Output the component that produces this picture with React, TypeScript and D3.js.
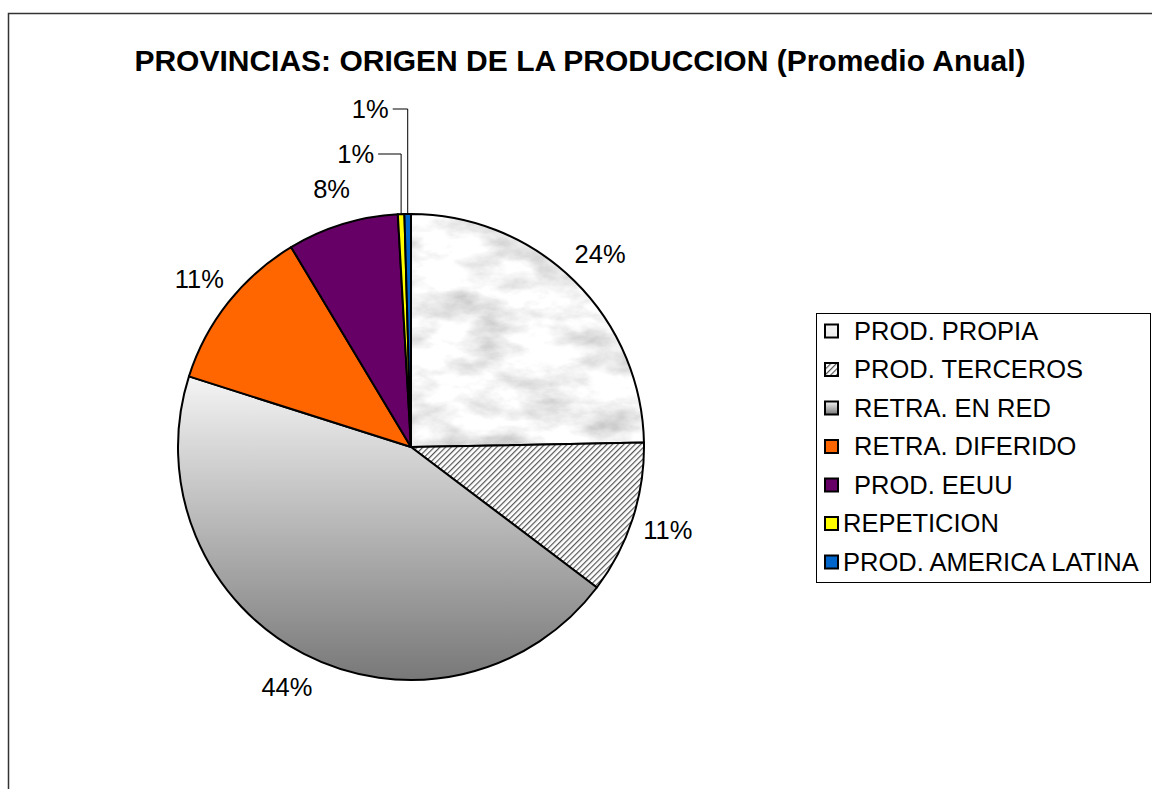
import React, {useEffect, useRef} from 'react';
import * as d3 from "d3"

const categories = ["PROD. PROPIA", "PROD. TERCEROS", "RETRA. EN RED", "RETRA. DIFERIDO", "PROD. EEUU", "REPETICION", "PROD. AMERICA LATINA"]
const values = [24.7, 10.6, 44.6, 11.5, 7.7, 0.45, 0.45]
const pctLabels = ["24%", "11%", "44%", "11%", "8%", "1%", "1%"]
const fills = ["url(#marble)", "url(#hatch)", "url(#grad)", "#FF6600", "#660066", "#FFFF00", "#0066CC"]
const title = "PROVINCIAS: ORIGEN DE LA PRODUCCION (Promedio Anual)"

const App = () => {
  const ref = useRef<SVGSVGElement>(null)

  useEffect(() => {
    const width = 1152, height = 789
    const cx = 411, cy = 447, r = 233
    const font = "'Liberation Sans', Arial, sans-serif"
    const svg = d3.select(ref.current)
    svg.selectAll("*").remove()

    const defs = svg.append("defs")
    // marble texture
    const filt = defs.append("filter").attr("id", "marbleF").attr("x", 0).attr("y", 0).attr("width", 1).attr("height", 1)
    filt.append("feTurbulence").attr("type", "fractalNoise").attr("baseFrequency", "0.018 0.035").attr("numOctaves", 5).attr("seed", 7)
    filt.append("feColorMatrix").attr("type", "matrix")
      .attr("values", "1.0 0 0 0 0.4  1.0 0 0 0 0.4  1.0 0 0 0 0.4  0 0 0 0 1")
    const mp = defs.append("pattern").attr("id", "marble").attr("patternUnits", "userSpaceOnUse")
      .attr("width", 300).attr("height", 300)
    mp.append("rect").attr("width", 300).attr("height", 300).attr("filter", "url(#marbleF)")

    const hp = defs.append("pattern").attr("id", "hatch").attr("patternUnits", "userSpaceOnUse")
      .attr("width", 4).attr("height", 4).attr("patternTransform", "rotate(45)")
    hp.append("rect").attr("width", 4).attr("height", 4).attr("fill", "#fff")
    hp.append("line").attr("x1", 0).attr("y1", 0).attr("x2", 0).attr("y2", 4)
      .attr("stroke", "#555").attr("stroke-width", 2.4)

    const lg = defs.append("linearGradient").attr("id", "grad").attr("x1", 0).attr("y1", 0).attr("x2", 0).attr("y2", 1)
    lg.append("stop").attr("offset", "0%").attr("stop-color", "#f4f4f4")
    lg.append("stop").attr("offset", "100%").attr("stop-color", "#787878")

    svg.append("rect").attr("width", width).attr("height", height).attr("fill", "#fff")
    // chart area border
    svg.append("rect").attr("x", 8.5).attr("y", 13.5).attr("width", 1200).attr("height", 820)
      .attr("fill", "none").attr("stroke", "#333").attr("stroke-width", 1.5)

    svg.append("text").attr("x", 580).attr("y", 71).attr("text-anchor", "middle")
      .attr("font-family", font).attr("font-weight", "bold").attr("font-size", 30).text(title)

    const pie = d3.pie<number>().sort(null).value(d => d)
    const arcs = pie(values)
    const arc = d3.arc<d3.PieArcDatum<number>>().innerRadius(0).outerRadius(r)
    const labelArc = d3.arc<d3.PieArcDatum<number>>().innerRadius(270).outerRadius(270)

    const g = svg.append("g").attr("transform", `translate(${cx},${cy})`)
    g.selectAll("path").data(arcs).join("path")
      .attr("d", arc)
      .attr("fill", (d, i) => fills[i])
      .attr("stroke", "#000").attr("stroke-width", 2).attr("stroke-linejoin", "round")

    // percentage labels
    const leader = [null, null, null, null, null, {top: -293, dx: -30}, {top: -338, dx: -22}]
    arcs.forEach((d, i) => {
      const pct = pctLabels[i]
      const lead = leader[i]
      if (!lead) {
        const [lx, ly] = labelArc.centroid(d)
        g.append("text").attr("x", lx).attr("y", ly).attr("dy", "0.35em").attr("text-anchor", "middle")
          .attr("font-family", font).attr("font-size", 25.5).text(pct)
      } else {
        const [ex, ey] = arc.centroid(d).map(v => v * 2)
        const xEnd = ex + lead.dx + 7
        g.append("path").attr("d", `M${ex},${ey}V${lead.top}H${xEnd}`)
          .attr("fill", "none").attr("stroke", "#000").attr("stroke-width", 1)
        g.append("text").attr("x", xEnd - 4).attr("y", lead.top).attr("dy", "0.35em").attr("text-anchor", "end")
          .attr("font-family", font).attr("font-size", 25.5).text(pct)
      }
    })

    // legend
    const legend = svg.append("g")
    legend.append("rect").attr("x", 816.5).attr("y", 313.5).attr("width", 334).attr("height", 269)
      .attr("fill", "#fff").attr("stroke", "#000").attr("stroke-width", 1)
    const ly = d3.scalePoint<string>().domain(categories).range([331, 562])
    categories.forEach((c, i) => {
      const y = ly(c) as number
      legend.append("rect").attr("x", 825).attr("y", y - 6.5).attr("width", 13).attr("height", 13)
        .attr("fill", fills[i]).attr("stroke", "#000").attr("stroke-width", 2)
      legend.append("text").attr("x", i < 5 ? 854 : 843).attr("y", y).attr("dy", "0.35em")
        .attr("font-family", font).attr("font-size", 25.5).text(c)
    })
  }, [])

  return (
    <svg ref={ref} width={1152} height={789}
      style={{position: "absolute", left: 0, top: 0, display: "block"}} />
  )
}

export default App
